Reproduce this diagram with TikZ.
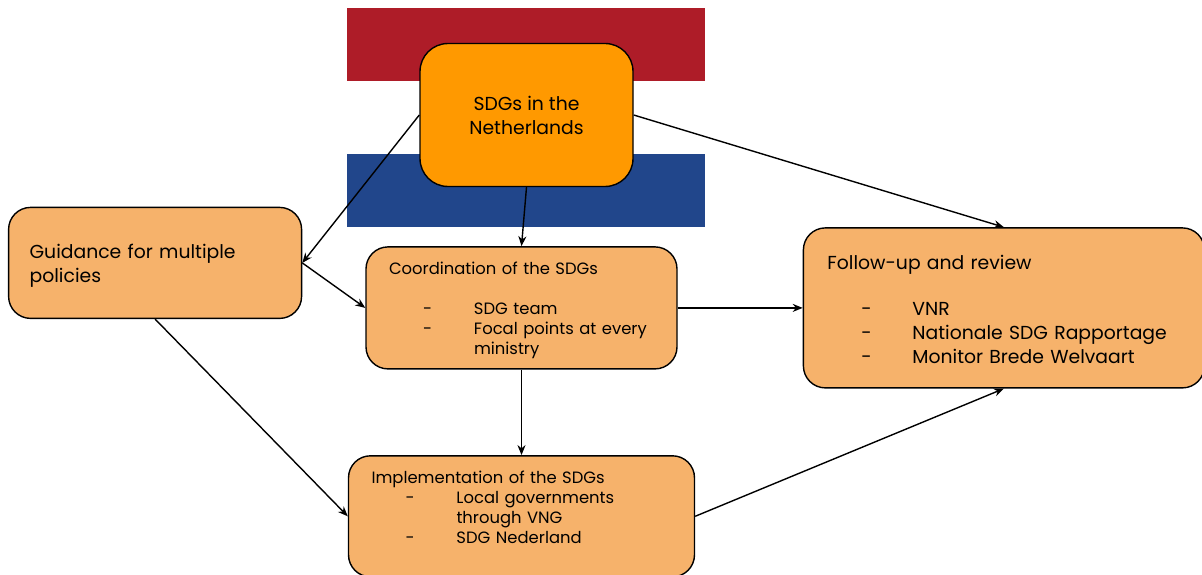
\documentclass[tikz,border=0pt]{standalone}
\usepackage{fontspec}
\setmainfont{Poppins}
\usetikzlibrary{positioning, arrows.meta}

\definecolor{dutchred}{HTML}{AE1C28}
\definecolor{dutchblue}{HTML}{21468B}
\definecolor{sdgorange}{HTML}{FF9900}
\definecolor{boxorange}{HTML}{F6B26B}

\newcommand{\dashitem}[1]{\makebox[85pt][l]{\hspace*{34pt}-}#1}
\newcommand{\dashcont}[1]{\makebox[85pt][l]{}#1}

\begin{document}
\begin{tikzpicture}[x=1pt,y=1pt,->,>={Stealth[length=10pt,width=8pt]},line width=1.4pt,
    flag band/.style={draw=none,minimum width=358pt,minimum height=73pt,inner sep=0pt},
    base box/.style={draw,rounded corners=22pt,fill=boxorange,inner xsep=23pt,inner ysep=0pt,align=left},
    small text/.style={font=\fontsize{16.4}{20}\selectfont},
    large text/.style={font=\fontsize{18.8}{24}\selectfont}]
\useasboundingbox (0,0) rectangle (1202,-575);

\node[flag band,fill=dutchred]   (redband)  at (526,-44.5) {};
\node[flag band,fill=dutchblue]  (blueband) [below=72pt of redband] {};

\node[base box,fill=sdgorange,rounded corners=28pt,large text,align=center,minimum width=213pt,minimum height=143pt,inner xsep=0pt]
    (sdgs) at (526.5,-115) {SDGs in the\\Netherlands};
\node[base box,small text,text width=265pt,minimum height=122pt]
    (coord) [below=59pt of sdgs,xshift=-5pt]
    {\rule{0pt}{17pt}Coordination of the SDGs\\[20pt]\dashitem{SDG team}\\\dashitem{Focal points at every}\\\dashcont{ministry}};
\node[base box,small text,text width=300pt,minimum height=121pt]
    (impl) [below=85.5pt of coord]
    {\rule{0pt}{15pt}Implementation of the SDGs\\\dashitem{Local governments}\\\dashcont{through VNG}\\\dashitem{SDG Nederland}\\~};
\node[base box,large text,text width=251pt,minimum height=111pt,inner xsep=21pt]
    (guidance) [left=63pt of coord,yshift=45pt]
    {\rule{0pt}{20pt}Guidance for multiple\\policies};
\node[base box,large text,text width=353pt,minimum height=160pt,inner xsep=24pt]
    (followup) [right=125pt of coord]
    {\rule{0pt}{17pt}Follow-up and review\\[22.5pt]\dashitem{VNR}\\\dashitem{Nationale SDG Rapportage}\\\dashitem{Monitor Brede Welvaart}};

\path[]
(sdgs.west) edge (guidance.east)
(sdgs.east) edge (followup.north)
(sdgs.south) edge (coord.north)
(guidance.east) edge (coord.west)
(guidance.south) edge (impl.west)
(coord.east) edge (followup.west)
(coord.south) edge (impl.north)
(impl.east) edge (followup.south);
\end{tikzpicture}
\end{document}
